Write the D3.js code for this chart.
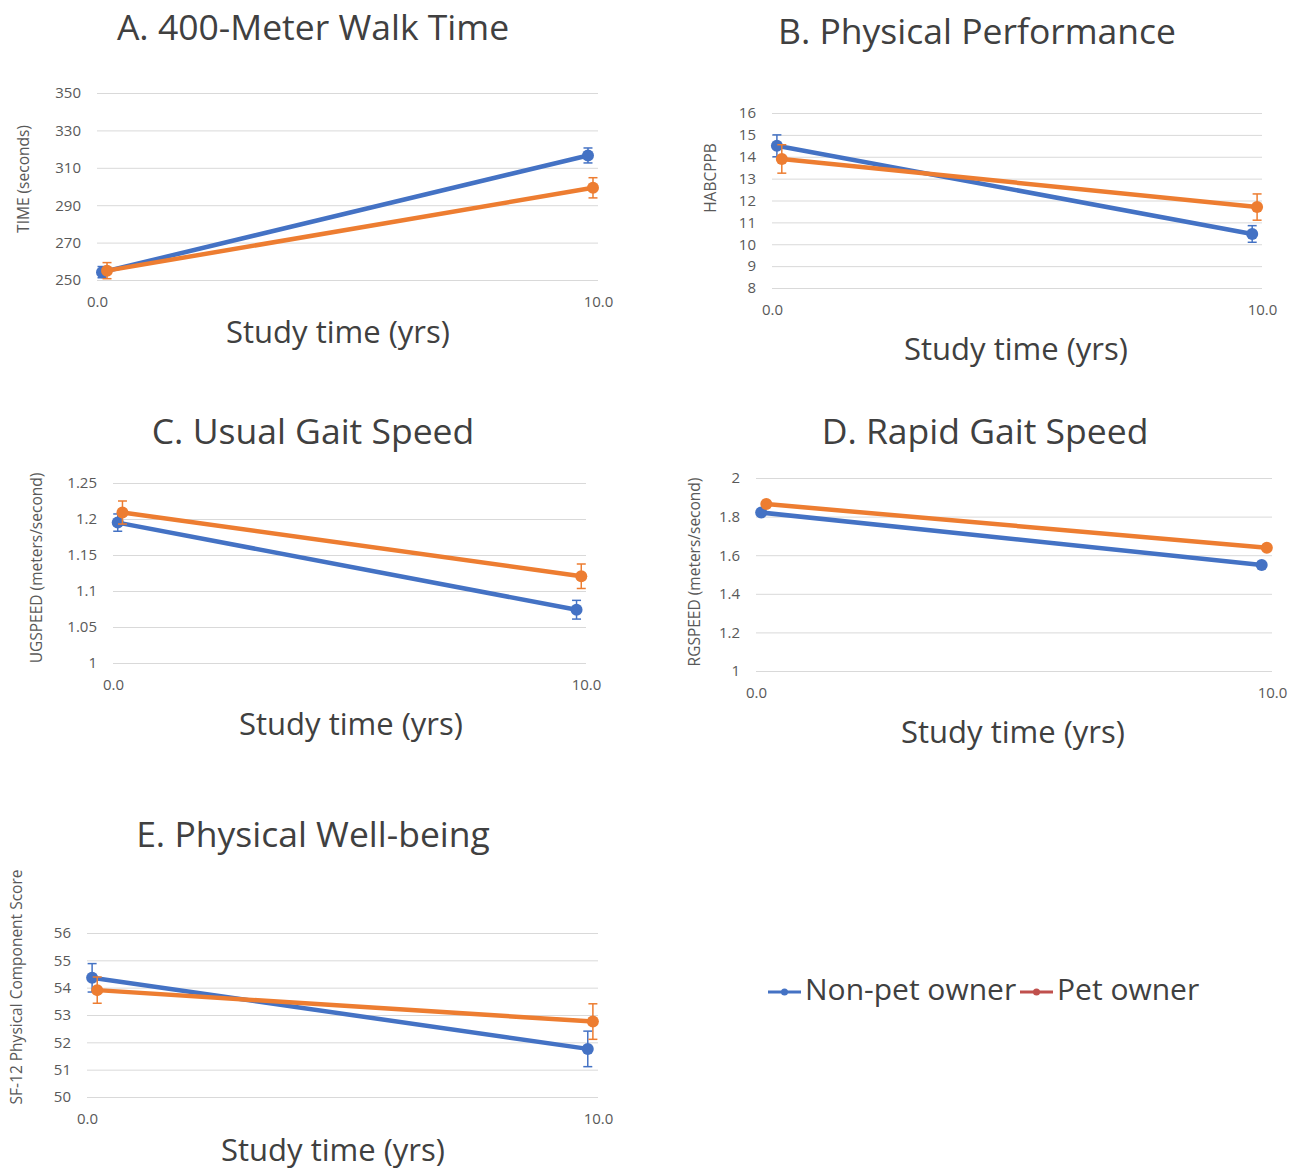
<!DOCTYPE html>
<html><head><meta charset="utf-8">
<script src="https://cdn.jsdelivr.net/npm/d3@7"></script>
<style>body{margin:0;background:#fff}svg{display:block}text{font-family:"Open Sans",sans-serif}</style>
</head><body>
<script>
// ---- data ----
const seriesNames = ["Non-pet owner", "Pet owner"];
const xNon = [0.1, 9.8];
const xPet = [0.2, 9.9];
const xTickLabels = ["0.0", "10.0"];

const walkNon = [254.2, 316.6], walkNonErr = [3, 4];
const walkPet = [255.0, 299.3], walkPetErr = [4.3, 5.4];
const walkTicks = [250, 270, 290, 310, 330, 350];

const ppbNon = [14.5, 10.47], ppbNonErr = [0.5, 0.38];
const ppbPet = [13.9, 11.7], ppbPetErr = [0.65, 0.6];
const ppbTicks = [8, 9, 10, 11, 12, 13, 14, 15, 16];

const ugNon = [1.195, 1.074], ugNonErr = [0.012, 0.013];
const ugPet = [1.209, 1.1205], ugPetErr = [0.016, 0.017];
const ugTicks = [1, 1.05, 1.1, 1.15, 1.2, 1.25];

const rgNon = [1.821, 1.549], rgNonErr = [0.01, 0.01];
const rgPet = [1.865, 1.638], rgPetErr = [0.01, 0.01];
const rgTicks = [1, 1.2, 1.4, 1.6, 1.8, 2];

const pcsNon = [54.36, 51.76], pcsNonErr = [0.52, 0.65];
const pcsPet = [53.91, 52.76], pcsPetErr = [0.48, 0.65];
const pcsTicks = [50, 51, 52, 53, 54, 55, 56];

const titles = ["A. 400-Meter Walk Time", "B. Physical Performance", "C. Usual Gait Speed", "D. Rapid Gait Speed", "E. Physical Well-being"];
const yTitles = ["TIME (seconds)", "HABCPPB", "UGSPEED (meters/second)", "RGSPEED (meters/second)", "SF-12 Physical Component Score"];
const xTitle = "Study time (yrs)";

// ---- styles / layout ----
const blue = "#4472C4", orange = "#ED7D31", legendRed = "#C0504D";
const W = 1298, H = 1171;
const svg = d3.select("body").append("svg").attr("width", W).attr("height", H);

const panels = [
  {title: titles[0], yTitle: yTitles[0], ticks: walkTicks, fmt: d3.format("d"),
   non: walkNon, nonErr: walkNonErr, pet: walkPet, petErr: walkPetErr,
   x0: 97, x1: 598, yTop: 93, yBot: 280, tx: 313, ty: 30, ytx: 25, yty: 179, xtx: 338, xty: 335},
  {title: titles[1], yTitle: yTitles[1], ticks: ppbTicks, fmt: d3.format("d"),
   non: ppbNon, nonErr: ppbNonErr, pet: ppbPet, petErr: ppbPetErr,
   x0: 772, x1: 1262, yTop: 113, yBot: 288, tx: 977, ty: 34, ytx: 712, yty: 178, xtx: 1016, xty: 352},
  {title: titles[2], yTitle: yTitles[2], ticks: ugTicks, fmt: d => String(+d.toFixed(2)),
   non: ugNon, nonErr: ugNonErr, pet: ugPet, petErr: ugPetErr,
   x0: 113, x1: 586, yTop: 483, yBot: 663, tx: 313, ty: 434, ytx: 38, yty: 568, xtx: 351, xty: 727},
  {title: titles[3], yTitle: yTitles[3], ticks: rgTicks, fmt: d => String(+d.toFixed(1)),
   non: rgNon, nonErr: rgNonErr, pet: rgPet, petErr: rgPetErr,
   x0: 756, x1: 1272, yTop: 478, yBot: 671, tx: 985, ty: 434, ytx: 696, yty: 572, xtx: 1013, xty: 735},
  {title: titles[4], yTitle: yTitles[4], ticks: pcsTicks, fmt: d3.format("d"),
   non: pcsNon, nonErr: pcsNonErr, pet: pcsPet, petErr: pcsPetErr,
   x0: 87, x1: 598, yTop: 933, yBot: 1097, tx: 313, ty: 837, ytx: 18, yty: 987, xtx: 333, xty: 1153}
];

panels.forEach(p => {
  const g = svg.append("g");
  const x = d3.scaleLinear().domain([0, 10]).range([p.x0, p.x1]);
  const y = d3.scaleLinear().domain(d3.extent(p.ticks)).range([p.yBot, p.yTop]);

  // title
  g.append("text").attr("x", p.tx).attr("y", p.ty).attr("text-anchor", "middle")
    .attr("dominant-baseline", "middle").attr("font-size", 35.5).attr("fill", "#404040").text(p.title);

  // gridlines + y axis labels via d3 axis
  const yAxis = d3.axisLeft(y).tickValues(p.ticks).tickFormat(p.fmt)
    .tickSize(-(p.x1 - p.x0)).tickPadding(16);
  const ya = g.append("g").attr("transform", `translate(${p.x0},0)`).call(yAxis);
  ya.select(".domain").remove();
  ya.selectAll(".tick line").attr("stroke", "#d9d9d9").attr("stroke-width", 1);
  ya.selectAll(".tick text").attr("font-size", 15).attr("fill", "#595959")
    .style("font-family", '"Open Sans",sans-serif');

  // x axis labels
  const xAxis = d3.axisBottom(x).tickValues([0, 10]).tickFormat((d, i) => xTickLabels[i])
    .tickSize(0).tickPadding(16);
  const xa = g.append("g").attr("transform", `translate(0,${p.yBot})`).call(xAxis);
  xa.select(".domain").remove();
  xa.selectAll(".tick text").attr("font-size", 15).attr("fill", "#595959")
    .style("font-family", '"Open Sans",sans-serif');

  // y title
  g.append("text").attr("transform", `translate(${p.ytx},${p.yty}) rotate(-90)`)
    .attr("text-anchor", "middle").attr("dominant-baseline", "middle")
    .attr("font-size", 15.5).attr("fill", "#595959").text(p.yTitle);

  // x title
  g.append("text").attr("x", p.xtx).attr("y", p.xty).attr("text-anchor", "middle")
    .attr("dominant-baseline", "middle").attr("font-size", 31).attr("fill", "#404040").text(xTitle);

  const series = [
    {xs: xNon, ys: p.non, err: p.nonErr, color: blue},
    {xs: xPet, ys: p.pet, err: p.petErr, color: orange}
  ];
  series.forEach(s => {
    const pts = s.xs.map((xv, i) => ({x: xv, y: s.ys[i], e: s.err[i]}));
    g.append("path").datum(pts)
      .attr("d", d3.line().x(d => x(d.x)).y(d => y(d.y)))
      .attr("fill", "none").attr("stroke", s.color).attr("stroke-width", 4.5);
    pts.forEach(d => {
      const cx = x(d.x);
      g.append("line").attr("x1", cx).attr("x2", cx).attr("y1", y(d.y - d.e)).attr("y2", y(d.y + d.e))
        .attr("stroke", s.color).attr("stroke-width", 1.5);
      [d.y - d.e, d.y + d.e].forEach(v => g.append("line").attr("x1", cx - 4.5).attr("x2", cx + 4.5)
        .attr("y1", y(v)).attr("y2", y(v)).attr("stroke", s.color).attr("stroke-width", 1.5));
      g.append("circle").attr("cx", cx).attr("cy", y(d.y)).attr("r", 6).attr("fill", s.color);
    });
  });
});

// legend
const lg = svg.append("g");
const legendItems = [
  {name: seriesNames[0], color: blue, x: 768},
  {name: seriesNames[1], color: legendRed, x: 1020}
];
legendItems.forEach(it => {
  lg.append("line").attr("x1", it.x).attr("x2", it.x + 33).attr("y1", 992).attr("y2", 992)
    .attr("stroke", it.color).attr("stroke-width", 3);
  lg.append("circle").attr("cx", it.x + 16.5).attr("cy", 992).attr("r", 3.5).attr("fill", it.color);
  lg.append("text").attr("x", it.x + 37).attr("y", 992).attr("dominant-baseline", "middle")
    .attr("font-size", 30).attr("fill", "#404040").text(it.name);
});
</script>
</body></html>
